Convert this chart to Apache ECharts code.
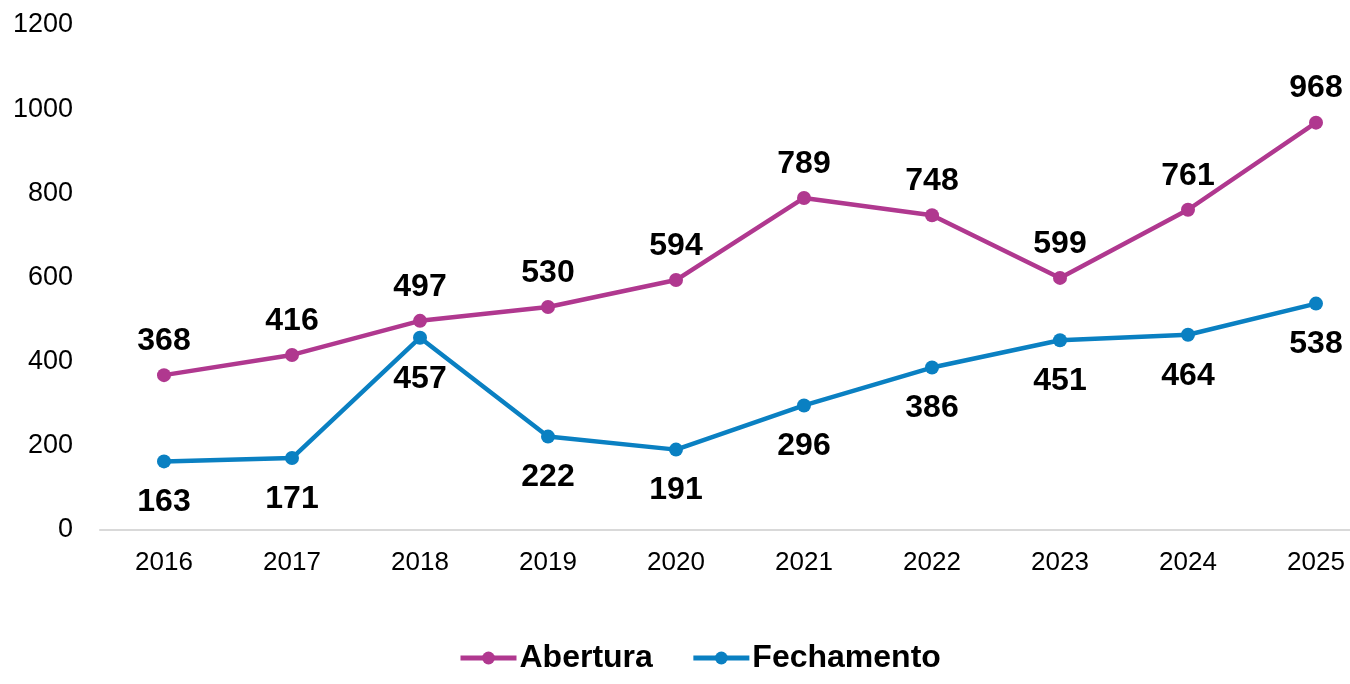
<!DOCTYPE html>
<html>
<head>
<meta charset="utf-8">
<script src="https://cdn.jsdelivr.net/npm/echarts@6/dist/echarts.min.js"></script>
<style>
html,body{margin:0;padding:0;background:#fff;}
#main{width:1350px;height:684px;}
</style>
</head>
<body>
<div id="main"></div>
<script>
var anos = ['2016','2017','2018','2019','2020','2021','2022','2023','2024','2025'];
var abertura = [368,416,497,530,594,789,748,599,761,968];
var fechamento = [163,171,457,222,191,296,386,451,464,538];
var yTicks = [0,200,400,600,800,1000,1200];

var corAbertura = '#B0388F';
var corFechamento = '#0A80C2';

var myChart = echarts.init(document.getElementById('main'));
var option = {
	animation: false,
	textStyle: { fontFamily: 'Liberation Sans, Arial, sans-serif' },
	grid: {
		left: 100,
		top: 25,
		width: 1280,
		height: 505,
		outerBoundsMode: 'none',
		containLabel: false
	},
	legend: {
		bottom: 5,
		left: 453,
		itemWidth: 56,
		itemHeight: 16,
		itemGap: 38,
		lineStyle: { width: 5 },
		textStyle: { fontSize: 32, fontWeight: 'bold', color: '#000', padding: [0, 0, 0, -2] },
		data: ['Abertura','Fechamento']
	},
	xAxis: {
		type: 'category',
		data: anos,
		boundaryGap: true,
		axisTick: { show: false },
		axisLine: { lineStyle: { color: '#d9d9d9', width: 2 } },
		axisLabel: { color: '#000', fontSize: 26, margin: 20 }
	},
	yAxis: {
		type: 'value',
		min: yTicks[0],
		max: yTicks[yTicks.length - 1],
		interval: 200,
		axisLine: { show: false },
		axisTick: { show: false },
		splitLine: { show: false },
		axisLabel: { color: '#000', fontSize: 27, margin: 27, formatter: function (v) { return String(v); } }
	},
	series: [{
		name: 'Abertura',
		type: 'line',
		data: abertura,
		symbol: 'circle',
		symbolSize: 14,
		lineStyle: { color: corAbertura, width: 4.5 },
		itemStyle: { color: corAbertura },
		label: {
			show: true,
			position: 'top',
			distance: 11,
			fontSize: 32,
			fontWeight: 'bold',
			color: '#000'
		}
	}, {
		name: 'Fechamento',
		type: 'line',
		data: fechamento,
		symbol: 'circle',
		symbolSize: 14,
		lineStyle: { color: corFechamento, width: 4.5 },
		itemStyle: { color: corFechamento },
		label: {
			show: true,
			position: 'bottom',
			distance: 18,
			fontSize: 32,
			fontWeight: 'bold',
			color: '#000'
		}
	}]
};
myChart.setOption(option);
</script>
</body>
</html>
